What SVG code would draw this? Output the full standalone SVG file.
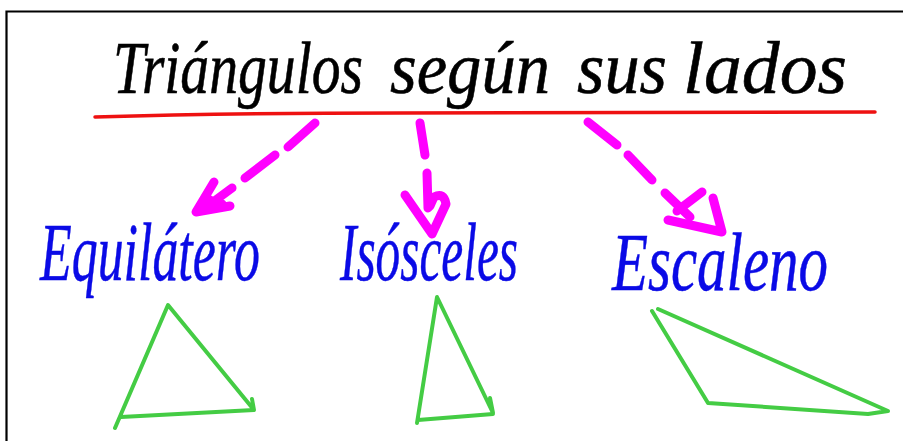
<svg xmlns="http://www.w3.org/2000/svg" width="903" height="441" viewBox="0 0 903 441">
<style>
.title{font-family:"Liberation Serif","DejaVu Serif",serif;font-style:italic;font-size:74px;fill:#000;stroke:#000;stroke-width:0.6}
.lbl{font-family:"Liberation Serif","DejaVu Serif",serif;font-style:italic;font-size:82px;fill:#0a0ae6;stroke:#0a0ae6;stroke-width:0.5}
.arr{fill:none;stroke:#ff00ff;stroke-width:9;stroke-linecap:round;stroke-linejoin:round}
.tri{fill:none;stroke:#44cc44;stroke-width:4;stroke-linecap:round;stroke-linejoin:round}
</style>
<rect width="903" height="441" fill="#fff"/>
<path d="M6.5,441 V11.5 H903" fill="none" stroke="#000" stroke-width="2.2"/>
<g id="title">
<text class="title" x="113" y="93" textLength="250" lengthAdjust="spacingAndGlyphs">Triángulos</text>
<text class="title" x="390" y="93" textLength="160" lengthAdjust="spacingAndGlyphs">según</text>
<text class="title" x="577" y="93" textLength="90" lengthAdjust="spacingAndGlyphs">sus</text>
<text class="title" x="683" y="93" textLength="164" lengthAdjust="spacingAndGlyphs">lados</text>
<path d="M95,117 C200,114 300,113 400,113 C550,112 700,111 875,112" fill="none" stroke="#ee1111" stroke-width="3.5" stroke-linecap="round"/>
</g>
<g id="connectors">
<g id="arrow-equilatero">
<path class="arr" d="M315,123 L288,147 M275,155 L245,178 M232,188 L205,208"/>
<path class="arr" d="M214,182 L196,212 L230,206 M210,200 L200,208 L222,204"/>
</g>
<g id="arrow-isosceles">
<path class="arr" d="M420,123 L425,155 M427,173 L428,208"/>
<path class="arr" d="M405,195 L432,234 L446,204 Q444,192 434,197 L430,206"/>
</g>
<g id="arrow-escaleno">
<path class="arr" d="M588,122 L617,145 M628,155 L652,180 M665,193 L690,217"/>
<path class="arr" d="M713,198 L722,232 L668,220 M702,192 L677,211"/>
</g>
</g>
<g id="equilatero">
<text class="lbl" x="40" y="280" textLength="220" lengthAdjust="spacingAndGlyphs">Equilátero</text>
<path class="tri" d="M115,428 L168,305 L254,410 L252,399 M254,410 L121,417"/>
</g>
<g id="isosceles">
<text class="lbl" x="340" y="280" textLength="178" lengthAdjust="spacingAndGlyphs">Isósceles</text>
<path class="tri" d="M417,423 L437,297 L493,413 L490,398 M493,414 L418,420"/>
</g>
<g id="escaleno">
<text class="lbl" x="612" y="290" textLength="216" lengthAdjust="spacingAndGlyphs">Escaleno</text>
<path class="tri" d="M652,311 L708,403 L868,414 L888,411 L658,309"/>
</g>
</svg>
